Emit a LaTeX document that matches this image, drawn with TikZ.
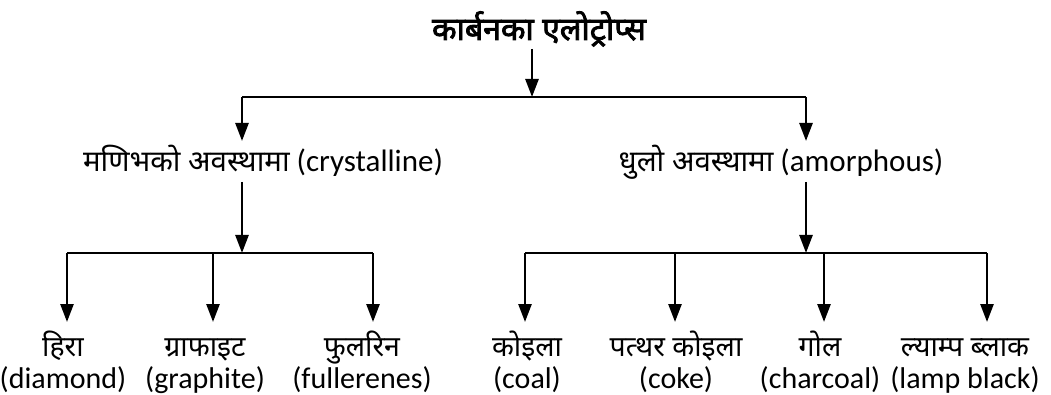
\documentclass[tikz,border=0pt]{standalone}
\usepackage{fontspec}
\setmainfont{Carlito}
\newfontfamily\deva[Script=Devanagari,Scale=0.95]{Noto Sans}
\newfontfamily\devabold[Script=Devanagari,FakeBold=2.5]{Noto Sans}
\usetikzlibrary{%
  arrows.meta,%
  positioning%
}

\begin{document}
\begin{tikzpicture}[
    x=1pt,y=-1pt,
    >={Triangle[length=18pt,width=13pt]},line width=2.6pt,
    every node/.style={font=\fontsize{31}{32}\selectfont,inner sep=0pt},
    title/.style={font=\fontsize{32}{34}\selectfont\devabold,anchor=base},
    branch/.style={anchor=base},
    leaf/.style={font=\fontsize{30}{32}\selectfont,align=center,anchor=base}
  ]
    \useasboundingbox (0,0) rectangle (1051,395);

    % root and first split
    \node [title] (root) at (539,40) {कार्बनका एलोट्रोप्स};
    \coordinate (split) at (532,97);
    \coordinate (splitL) at (242,97);
    \coordinate (splitR) at (806,97);

    \node [branch] (cryst) at (263,172) {{\deva मणिभको अवस्थामा} (crystalline)};
    \node [branch] (amorph) at (781,172) {{\deva धुलो अवस्थामा} (amorphous)};

    \draw [->] (split |- 0,49) -- (split);
    \draw (splitL) -- (splitR);
    \draw [->] (splitL) -- (splitL |- 0,141);
    \draw [->] (splitR) -- (splitR |- 0,141);

    % crystalline forms
    \coordinate (barL) at (242,253);
    \draw [->] (barL |- 0,182) -- (barL);
    \draw (67,253) -- (373,253);
    \node [leaf] (diamond)  at (63,388)  {\deva हिरा\\(diamond)};
    \node [leaf] (graphite) at (205,388) {\deva ग्राफाइट\\(graphite)};
    \node [leaf] (fuller)   at (362,388) {\deva फुलरिन\\(fullerenes)};
    \foreach \x in {67,213,373}
        \draw [->] (\x,253) -- (\x,322);

    % amorphous forms
    \coordinate (barR) at (806,253);
    \draw [->] (barR |- 0,182) -- (barR);
    \draw (525,253) -- (987,253);
    \node [leaf] (coal)     at (527,388) {\deva कोइला\\(coal)};
    \node [leaf] (coke)     at (676,388) {\deva पत्थर कोइला\\(coke)};
    \node [leaf] (charcoal) at (820,388) {\deva गोल\\(charcoal)};
    \node [leaf] (lamp)     at (965,388) {\deva ल्याम्प ब्लाक\\(lamp black)};
    \foreach \x in {525,675,824,987}
        \draw [->] (\x,253) -- (\x,322);
\end{tikzpicture}
\end{document}
